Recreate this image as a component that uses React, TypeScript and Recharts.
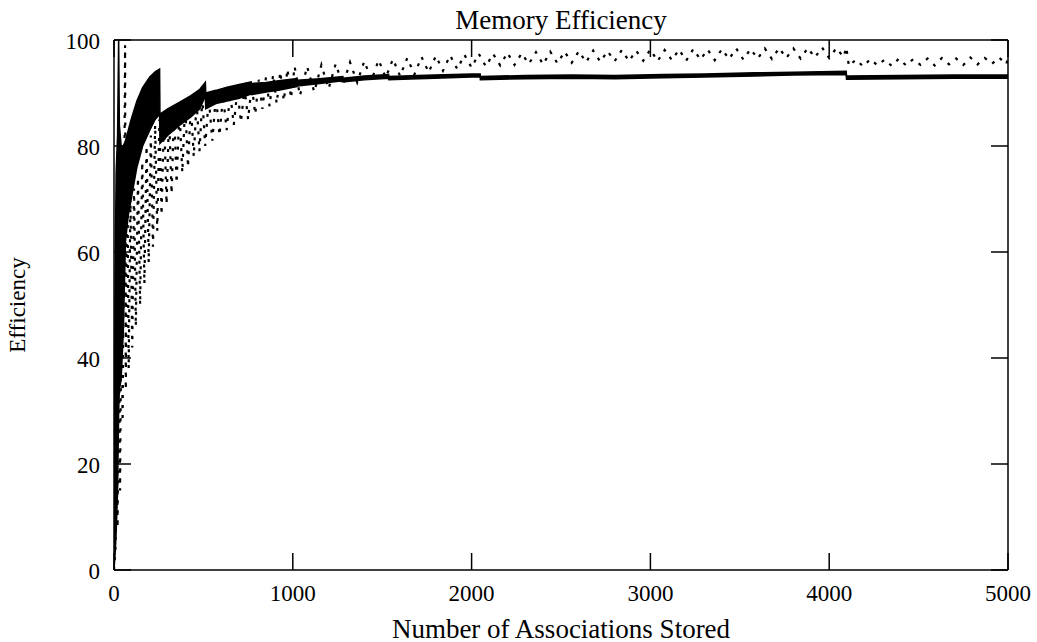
import React from "react";
import { ComposedChart, Area, Line, XAxis, YAxis } from "recharts";

const X_TICKS = [0, 1000, 2000, 3000, 4000, 5000];
const Y_TICKS = [0, 20, 40, 60, 80, 100];

// solid series oscillates fast, so keep its envelope: [stored, low, high]
const SOLID: [number, number, number][] = [
  [0, 0, 3], [6, 3, 55], [12, 7, 75], [20, 15, 82], [26, 30, 100], [30, 34, 84],
  [40, 36, 80], [52, 45, 80], [64, 62, 81], [80, 67, 83], [96, 70, 85], [128, 76, 88.5],
  [160, 80, 91], [200, 83, 93], [230, 85, 94], [255, 86, 94.5], [257, 80.5, 86],
  [300, 82, 87], [370, 84, 88.3], [430, 85.5, 89.5], [480, 87, 90.7], [511, 89.5, 92],
  [513, 87, 90], [570, 88, 90.5], [632, 88.5, 91.1], [700, 89, 91.6], [767, 89.8, 92.1],
  [769, 89.7, 91.8], [850, 90.2, 92], [920, 90.5, 92.3], [1023, 91.2, 92.7], [1025, 91.3, 92.4],
  [1150, 91.8, 92.7], [1280, 92.3, 93.1], [1281, 92.1, 92.8], [1400, 92.5, 93.2],
  [1536, 92.8, 93.5], [1537, 92.5, 93.1], [1700, 92.7, 93.3], [1792, 92.8, 93.4],
  [2000, 93, 93.6], [2048, 93, 93.6], [2049, 92.5, 93.1], [2300, 92.7, 93.3],
  [2560, 92.8, 93.4], [2800, 92.7, 93.3], [3072, 92.9, 93.5], [3300, 93, 93.6],
  [3584, 93.2, 93.8], [3800, 93.4, 93.9], [4095, 93.5, 94.1], [4097, 92.6, 93.2],
  [4400, 92.7, 93.3], [4700, 92.8, 93.4], [5000, 92.8, 93.4],
];

// dotted series: [stored, efficiency]
const DOTTED: [number, number][] = [
  [0, 0], [8, 4], [14, 30], [20, 8], [28, 45], [34, 15], [42, 56], [48, 28], [56, 64],
  [62, 99], [66, 34], [74, 80], [82, 38], [92, 70], [102, 42], [112, 72], [122, 46],
  [134, 74], [146, 50], [158, 77], [170, 54], [182, 80], [194, 58], [206, 82], [218, 61],
  [230, 84], [242, 64], [254, 85], [266, 67], [280, 86], [294, 69], [308, 86], [322, 71],
  [336, 87], [350, 73], [366, 87], [382, 75], [398, 88], [414, 76], [430, 88], [446, 78],
  [462, 88.5], [478, 79], [494, 89], [510, 80], [530, 89], [550, 81], [570, 89.5],
  [590, 82], [610, 89.5], [630, 83], [650, 90], [670, 84], [690, 90.5], [710, 84.5],
  [730, 91], [750, 85], [770, 91.5], [790, 86], [810, 92.5], [830, 87], [850, 93],
  [870, 87.5], [890, 93.5], [910, 88], [930, 94], [950, 88.5], [970, 94.5], [990, 89],
  [1010, 95], [1040, 89.5], [1080, 95], [1120, 90.2], [1160, 95.3], [1200, 90.8],
  [1240, 95.5], [1280, 91.4], [1320, 95.8], [1360, 92], [1400, 96], [1440, 92.4],
  [1480, 96.2], [1520, 92.9], [1560, 96.4], [1600, 93.2], [1640, 96.6], [1680, 93.5],
  [1720, 96.8], [1760, 93.9], [1800, 97], [1840, 94.2], [1880, 97.1], [1920, 94.5],
  [1960, 97.2], [2000, 94.8], [2040, 97.4], [2080, 95], [2120, 97.4], [2160, 95.2],
  [2200, 97.6], [2240, 95.3], [2280, 97.5], [2320, 95.5], [2360, 97.7], [2400, 95.4],
  [2440, 97.8], [2480, 95.6], [2520, 97.8], [2560, 95.7], [2600, 97.9], [2640, 95.8],
  [2680, 98], [2720, 95.9], [2760, 97.9], [2800, 96], [2840, 98.1], [2880, 96],
  [2920, 98], [2960, 96.1], [3000, 98.2], [3040, 96], [3080, 98.1], [3120, 96.2],
  [3160, 98.2], [3200, 96.1], [3240, 98.3], [3280, 96.3], [3320, 98.2], [3360, 96.2],
  [3400, 98.3], [3440, 96.4], [3480, 98.4], [3520, 96.3], [3560, 98.3], [3600, 96.5],
  [3640, 98.4], [3680, 96.4], [3720, 98.5], [3760, 96.6], [3800, 98.4], [3840, 96.5],
  [3880, 98.5], [3920, 96.7], [3960, 98.6], [4000, 96.6], [4040, 98.5], [4080, 96.8],
  [4096, 98.6], [4110, 95.1], [4150, 96.3], [4190, 95], [4230, 96.4], [4270, 95.2],
  [4310, 96.3], [4350, 95.1], [4390, 96.5], [4430, 95.2], [4470, 96.4], [4510, 95.3],
  [4550, 96.5], [4590, 95.2], [4630, 96.6], [4670, 95.4], [4710, 96.5], [4750, 95.3],
  [4790, 96.7], [4830, 95.4], [4870, 96.6], [4910, 95.5], [4950, 96.7], [4990, 95.4],
  [5000, 96.5],
];

const solidRows = SOLID.map(([x, lo, hi]) => ({ x, band: [lo, hi] }));
const dottedRows = DOTTED.map(([x, y]) => ({ x, y }));

const FONT = "'Liberation Serif', 'Times New Roman', serif";
const FS = 23;
const LABEL_FS = 27;

function XTick({ x, y, payload }: any) {
  return (
    <text x={x} y={y + 31} textAnchor="middle" fontFamily={FONT} fontSize={FS} fill="#000">
      {payload.value}
    </text>
  );
}

function YTick({ x, y, payload }: any) {
  return (
    <text x={x - 14} y={y + 9} textAnchor="end" fontFamily={FONT} fontSize={FS} fill="#000">
      {payload.value}
    </text>
  );
}

function NoLabel() {
  return <g />;
}

const lineStyle = { stroke: "#000", strokeWidth: 1.5 };

export default function App() {
  return (
    <div style={{ position: "absolute", left: 0, top: 0, width: 1037, height: 642, background: "#fff", fontFamily: FONT }}>
      <div style={{ position: "absolute", left: 114, top: 5, width: 894, textAlign: "center", fontSize: LABEL_FS, lineHeight: "30px" }}>
        Memory Efficiency
      </div>
      <div style={{ position: "absolute", left: 114, top: 614, width: 894, textAlign: "center", fontSize: LABEL_FS, lineHeight: "30px" }}>
        Number of Associations Stored
      </div>
      <div
        style={{
          position: "absolute", left: -82, top: 290, width: 200, height: 30, lineHeight: "30px",
          textAlign: "center", fontSize: 23, transform: "rotate(-90deg)",
        }}
      >
        Efficiency
      </div>
      <ComposedChart width={1037} height={642} margin={{ top: 30, right: 19, bottom: 32, left: 54 }}>
        <XAxis
          dataKey="x" type="number" domain={[0, 5000]} ticks={X_TICKS} height={40}
          tickSize={-17} tickMargin={17} axisLine={lineStyle} tickLine={lineStyle} tick={<XTick />}
          allowDataOverflow interval={0}
        />
        <XAxis
          xAxisId="top" orientation="top" dataKey="x" type="number" domain={[0, 5000]} ticks={X_TICKS}
          height={10} tickSize={-17} axisLine={lineStyle} tickLine={lineStyle} tick={<NoLabel />}
          allowDataOverflow interval={0}
        />
        <YAxis
          type="number" domain={[0, 100]} ticks={Y_TICKS} width={60} tickSize={-17} tickMargin={17}
          axisLine={lineStyle} tickLine={lineStyle} tick={<YTick />} allowDataOverflow interval={0}
        />
        <YAxis
          yAxisId="right" orientation="right" type="number" domain={[0, 100]} ticks={Y_TICKS} width={10}
          tickSize={-17} axisLine={lineStyle} tickLine={lineStyle} tick={<NoLabel />} allowDataOverflow
          interval={0}
        />
        <Area
          data={solidRows} dataKey="band" type="linear" stroke="#000" strokeWidth={1.5}
          fill="#000" fillOpacity={1} dot={false} activeDot={false} isAnimationActive={false}
        />
        <Line
          data={dottedRows} dataKey="y" type="linear" stroke="#000" strokeWidth={2.2}
          strokeDasharray="3 7" dot={false} activeDot={false} isAnimationActive={false}
        />
      </ComposedChart>
    </div>
  );
}
